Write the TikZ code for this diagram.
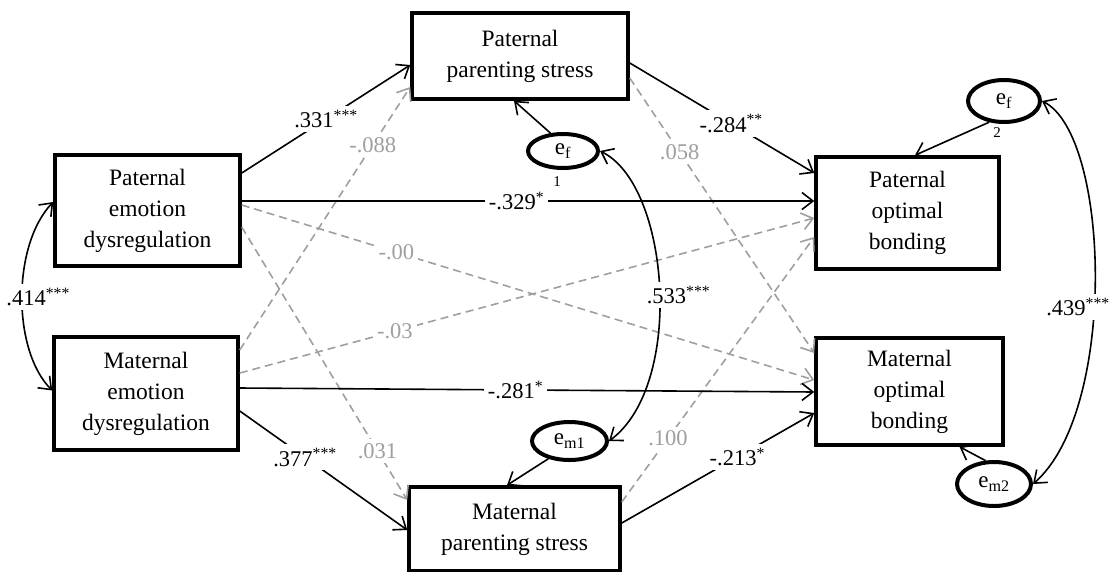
\documentclass[tikz,border=0pt]{standalone}
\usepackage{fontspec}
\setmainfont{Liberation Serif}
\usepackage{tikz}
\usetikzlibrary{arrows.meta,shapes.geometric}

\begin{document}
\begin{tikzpicture}[x=1pt, y=-1pt,
  box/.style={draw, line width=3.5pt, inner sep=0pt, align=center, font=\fontsize{23.5}{31}\selectfont},
  err/.style={draw, ellipse, line width=4pt, inner sep=0pt, font=\fontsize{23}{26}\selectfont},
  idx/.style={inner sep=0pt, font=\fontsize{15}{16}\selectfont},
  eff/.style={line width=1.6pt, -{Straight Barb[length=11pt,width=17pt]}},
  nseff/.style={eff, draw=gray!75, dash pattern=on 8pt off 5pt},
  cov/.style={line width=1.6pt, {Straight Barb[length=11pt,width=17pt]}-{Straight Barb[length=11pt,width=17pt]}},
  coef/.style={fill=white, inner sep=4pt, font=\fontsize{22.5}{24}\selectfont},
  nscoef/.style={coef, text=gray!75}]
\useasboundingbox (0,0) rectangle (1110,571);

\node[box, minimum width=185, minimum height=111] (PED) at (147.5,210.5) {Paternal\\emotion\\dysregulation};
\node[box, minimum width=184, minimum height=113] (MED) at (146,393.5) {Maternal\\emotion\\dysregulation};
\node[box, minimum width=216, minimum height=86] (PPS) at (520,56) {Paternal\\parenting stress};
\node[box, minimum width=211, minimum height=84] (MPS) at (514.5,529) {Maternal\\parenting stress};
\node[box, minimum width=183, minimum height=112] (PPB) at (907.5,213) {Paternal\\optimal\\bonding};
\node[box, minimum width=187, minimum height=107] (MPB) at (909.5,391.5) {Maternal\\optimal\\bonding};

\node[err, minimum width=70, minimum height=34] (ef1) at (563,151) {e\textsubscript{f}};
\node[idx] (ef1idx) at (557,182) {1};
\node[err, minimum width=72, minimum height=42] (ef2) at (1004,101) {e\textsubscript{f}};
\node[idx] (ef2idx) at (997,133) {2};
\node[err, minimum width=75, minimum height=38] (em1) at (569.5,441) {e\textsubscript{m1}};
\node[err, minimum width=74, minimum height=44] (em2) at (994,484) {e\textsubscript{m2}};

\draw[nseff] ([yshift=-16.5]PED.east) -- node[nscoef, pos=0.82] {.031} ([yshift=29]MPS.west);
\draw[nseff] ([yshift=5.5]PED.east) -- node[nscoef, pos=0.27] {-.00} ([yshift=11.5]MPB.west);
\draw[nseff] ([yshift=43.5]MED.east) -- node[nscoef, pos=0.78] {-.088} ([yshift=-31]PPS.west);
\draw[nseff] ([yshift=20.5]MED.east) -- node[nscoef, pos=0.27] {-.03} ([yshift=-5]PPB.west);
\draw[nseff] ([yshift=27]MPS.east) -- node[nscoef, pos=0.24] {.100} ([yshift=-24]PPB.west);
\draw[nseff] ([yshift=-22]PPS.east) -- node[nscoef, pos=0.27] {.058} ([yshift=38.5]MPB.west);

\draw[eff] ([yshift=37.5]PED.east) -- node[coef] {.331\textsuperscript{***}} ([yshift=-9]PPS.west);
\draw[eff] ([yshift=9.5]PED.east) -- node[coef, pos=0.48] {-.329\textsuperscript{*}} ([yshift=12]PPB.west);
\draw[eff] ([yshift=-7]PPS.east) -- node[coef, pos=0.55] {-.284\textsuperscript{**}} ([yshift=40]PPB.west);
\draw[eff] ([yshift=5.5]MED.east) -- node[coef, pos=0.48] {-.281\textsuperscript{*}} ([yshift=-0.5]MPB.west);
\draw[eff] ([yshift=-17.5]MED.east) -- node[coef, pos=0.39] {.377\textsuperscript{***}} ([yshift=-1]MPS.west);
\draw[eff] ([yshift=6]MPS.east) -- node[coef, pos=0.6] {-.213\textsuperscript{*}} ([yshift=-21.5]MPB.west);

\draw[eff] (ef1.125) -- ([xshift=-6]PPS.south);
\draw[eff] (ef2.235) -- ([xshift=7.5]PPB.north);
\draw[eff] (em1.220) -- ([xshift=-7.5]MPS.north);
\draw[eff] (em2.110) -- ([xshift=50]MPB.south);

\draw[cov] ([yshift=8.5]PED.west) .. controls (12,245) and (12,350) .. node[coef, pos=0.5, xshift=16] {.414\textsuperscript{***}} ([yshift=3]MED.west);
\draw[cov] (ef1.east) .. controls (670,185) and (685,385) .. node[coef, pos=0.52, xshift=19] {.533\textsuperscript{***}} (em1.east);
\draw[cov] (ef2.east) .. controls (1110,135) and (1118,410) .. node[coef, pos=0.56, xshift=-16] {.439\textsuperscript{***}} (em2.east);
\end{tikzpicture}
\end{document}
